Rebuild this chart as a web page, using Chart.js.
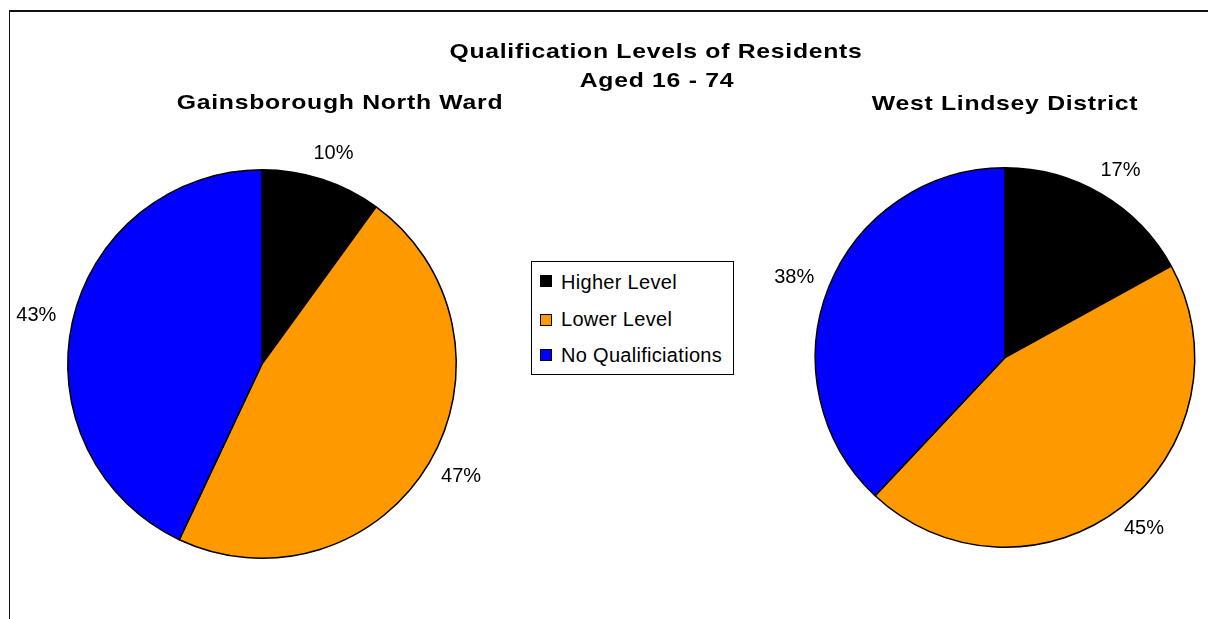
<!DOCTYPE html>
<html>
<head>
<meta charset="utf-8">
<script src="https://cdn.jsdelivr.net/npm/chart.js@4"></script>
<style>
  html, body { margin: 0; padding: 0; background: #fff; width: 1208px; height: 619px; overflow: hidden; }
  body { position: relative; font-family: "Liberation Sans", Arial, sans-serif; }
  .frame { position: absolute; left: 9px; top: 10px; width: 1210px; height: 620px; border-top: 2px solid #111; border-left: 1px solid #111; }
  canvas.full { position: absolute; left: 0; top: 0; }
  .ttl { position: absolute; width: 600px; text-align: center; font-weight: bold; font-size: 21px; line-height: 21px; letter-spacing: 0.6px; color: #000; white-space: nowrap; transform: scaleX(1.18); transform-origin: 50% 50%; }
  .legend { position: absolute; left: 531px; top: 261px; width: 201px; height: 112px; border: 1px solid #000; background: #fff; }
  .sw { position: absolute; left: 540px; width: 10px; height: 10px; border: 1px solid #000; }
  .lt { position: absolute; left: 561px; font-size: 20px; line-height: 20px; letter-spacing: 0.3px; color: #000; white-space: nowrap; }
</style>
</head>
<body>
<div class="frame"></div>
<canvas id="c1" class="full" width="1208" height="619"></canvas>
<canvas id="c2" class="full" width="1208" height="619"></canvas>
<div id="texts"></div>
<script>
// ---- data ----
const categories = ['Higher Level', 'Lower Level', 'No Qualificiations'];
const wardValues = [10, 47, 43];
const districtValues = [17, 45, 38];
const sliceColors = ['#000000', '#FF9900', '#0000FF'];
const mainTitle = ['Qualification Levels of Residents', 'Aged 16 - 74'];
const wardTitle = 'Gainsborough North Ward';
const districtTitle = 'West Lindsey District';

// ---- titles and legend (real text) ----
const texts = document.getElementById('texts');
function addTitle(txt, cx, top) {
  const d = document.createElement('div');
  d.className = 'ttl';
  d.textContent = txt;
  d.style.left = (cx - 300) + 'px';
  d.style.top = top + 'px';
  texts.appendChild(d);
}
addTitle(mainTitle[0], 656, 40);
addTitle(mainTitle[1], 657, 69);
addTitle(wardTitle, 340, 91);
addTitle(districtTitle, 1005, 92);

const lg = document.createElement('div');
lg.className = 'legend';
texts.appendChild(lg);
const rowTops = [272, 309, 345];
const swTops = [275, 314, 349];
categories.forEach((c, i) => {
  const s = document.createElement('div');
  s.className = 'sw';
  s.style.top = swTops[i] + 'px';
  s.style.background = sliceColors[i];
  texts.appendChild(s);
  const t = document.createElement('div');
  t.className = 'lt';
  t.style.top = rowTops[i] + 'px';
  t.textContent = c;
  texts.appendChild(t);
});

// ---- outside percentage labels ----
const outsideLabels = {
  id: 'outsideLabels',
  afterDatasetsDraw(chart) {
    const ctx = chart.ctx;
    const meta = chart.getDatasetMeta(0);
    const data = chart.data.datasets[0].data;
    ctx.save();
    ctx.font = '20px "Liberation Sans", Arial, sans-serif';
    ctx.fillStyle = '#000';
    ctx.textAlign = 'center';
    ctx.textBaseline = 'middle';
    meta.data.forEach((arc, i) => {
      const mid = (arc.startAngle + arc.endAngle) / 2;
      const dx = Math.cos(mid), dy = Math.sin(mid);
      const txt = data[i] + '%';
      const w = ctx.measureText(txt).width;
      const h = 20;
      const r = arc.outerRadius + 17;
      const x = arc.x + dx * r + dx * w / 2;
      const y = arc.y + dy * r + dy * h / 2;
      ctx.fillText(txt, x, y);
    });
    ctx.restore();
  }
};

function makePie(id, values, padding) {
  return new Chart(document.getElementById(id), {
    type: 'pie',
    data: {
      labels: categories,
      datasets: [{
        data: values,
        backgroundColor: sliceColors,
        borderColor: '#000',
        borderWidth: 1.5,
        hoverBorderWidth: 1.5,
        hoverOffset: 0
      }]
    },
    options: {
      responsive: false,
      animation: false,
      events: [],
      layout: { padding: padding },
      plugins: { legend: { display: false }, tooltip: { enabled: false }, title: { display: false } }
    },
    plugins: [outsideLabels]
  });
}

makePie('c1', wardValues, { left: 67, right: 751, top: 169, bottom: 60 });
makePie('c2', districtValues, { left: 814, right: 12, top: 167, bottom: 71 });
</script>
</body>
</html>
